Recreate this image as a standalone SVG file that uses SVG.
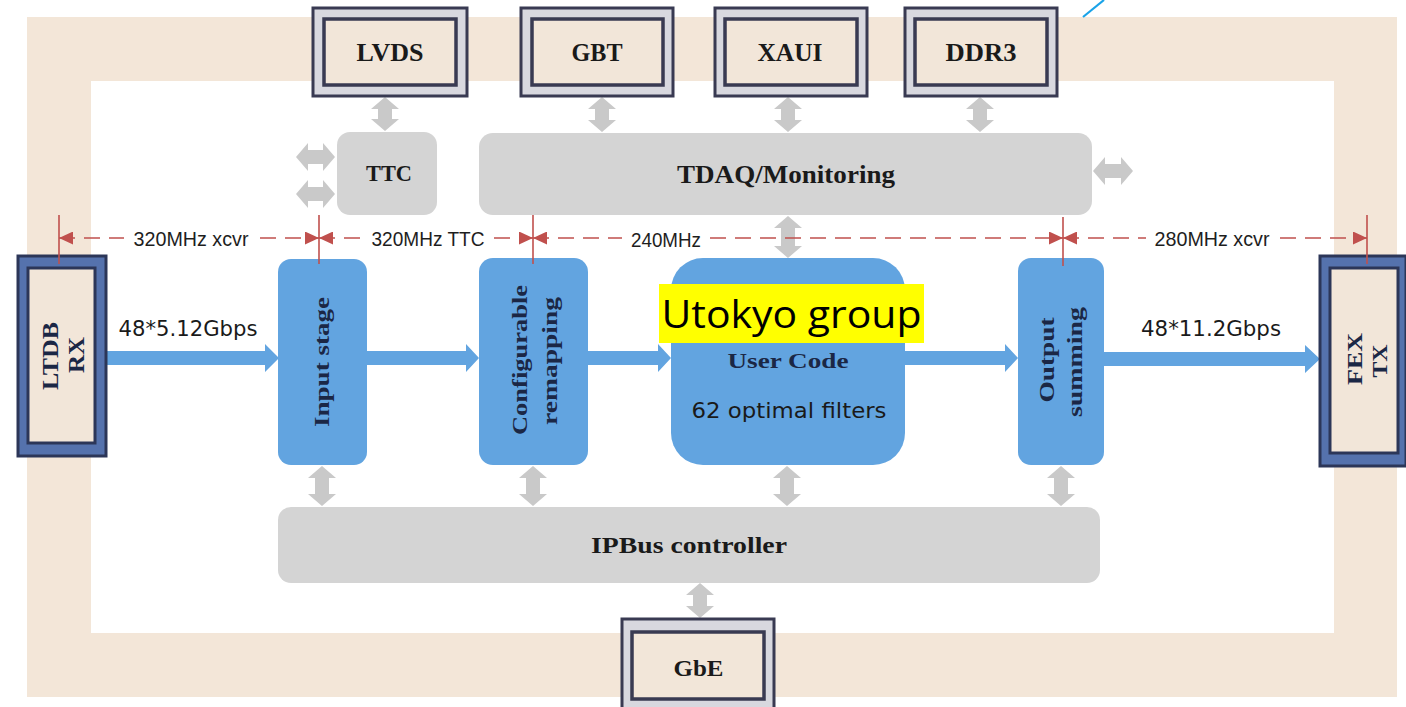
<svg xmlns="http://www.w3.org/2000/svg" width="1406" height="707" viewBox="0 0 1406 707">
<style>
.ser{font-family:"Liberation Serif","Times New Roman",serif;font-weight:bold;fill:#1a1a1a;text-anchor:middle}
.bl{fill:#1b2745}
.san{font-family:"DejaVu Sans","Liberation Sans",sans-serif;fill:#1a1a1a;text-anchor:middle}
.dim{font-family:"Liberation Sans",Arial,sans-serif;font-size:20px;fill:#1e1e1e;text-anchor:middle}
.ext-o{fill:#d8d8df;stroke:#393a52;stroke-width:3}
.ext-i{fill:#f2e6d9;stroke:#393a52;stroke-width:3.5}
.gray{fill:#d4d4d4}
.garr{fill:#c9c9c9}
.blue{fill:#62a4e0}
.io-o{fill:#5572ad;stroke:#2c3658;stroke-width:3}
.io-i{fill:#f2e6d9;stroke:#2c3658;stroke-width:3}
.dl{stroke:#c0504d;stroke-width:1.6;fill:none;stroke-dasharray:16 9}
.tick{stroke:#c0504d;stroke-width:1.6}
</style>
<defs>
<marker id="ra" markerUnits="userSpaceOnUse" markerWidth="15" markerHeight="13" refX="14" refY="6.5" orient="auto-start-reverse">
<path d="M0,0 L14,6.5 L0,13 Z" fill="#c0504d"/>
</marker>
</defs>
<rect width="1406" height="707" fill="#ffffff"/>
<g id="frame">
<rect x="27" y="17" width="1370" height="680" fill="#f3e6d8"/>
<rect x="91" y="81" width="1243" height="552" fill="#ffffff"/>
<line x1="1083" y1="17" x2="1104" y2="0" stroke="#1aa3e8" stroke-width="2.2"/>
</g>
<g id="connectors">
<path class="garr" d="M385 97 L399 109 H392 V119 H399 L385 131 L371 119 H378 V109 H371 Z"/>
<path class="garr" d="M602 97 L616 109 H609 V120 H616 L602 132 L588 120 H595 V109 H588 Z"/>
<path class="garr" d="M788 97 L802 109 H795 V120 H802 L788 132 L774 120 H781 V109 H774 Z"/>
<path class="garr" d="M980 97 L994 109 H987 V120 H994 L980 132 L966 120 H973 V109 H966 Z"/>
<path class="garr" d="M788 216 L802 228 H795 V246 H802 L788 258 L774 246 H781 V228 H774 Z"/>
<path class="garr" d="M1093 171 L1105 157 V164 H1121 V157 L1133 171 L1121 185 V178 H1105 V185 Z"/>
<path class="garr" d="M296 157 L308 143 V150 H323 V143 L335 157 L323 171 V164 H308 V171 Z"/>
<path class="garr" d="M296 194 L308 180 V187 H323 V180 L335 194 L323 208 V201 H308 V208 Z"/>
<path class="garr" d="M322 466 L336 478 H329 V494 H336 L322 506 L308 494 H315 V478 H308 Z"/>
<path class="garr" d="M533 466 L547 478 H540 V494 H547 L533 506 L519 494 H526 V478 H519 Z"/>
<path class="garr" d="M787 466 L801 478 H794 V494 H801 L787 506 L773 494 H780 V478 H773 Z"/>
<path class="garr" d="M1061 466 L1075 478 H1068 V494 H1075 L1061 506 L1047 494 H1054 V478 H1047 Z"/>
<path class="garr" d="M700 583 L714 595 H707 V606 H714 L700 618 L686 606 H693 V595 H686 Z"/>
<path class="blue" d="M106 351 H265 V344 L279 358 L265 372 V365 H106 Z"/>
<path class="blue" d="M367 351 H466 V344 L479 358 L466 372 V365 H367 Z"/>
<path class="blue" d="M588 351 H658 V344 L671 358 L658 372 V365 H588 Z"/>
<path class="blue" d="M905 351 H1005 V344 L1018 358 L1005 372 V365 H905 Z"/>
<path class="blue" d="M1104 352 H1305 V345 L1320 359 L1305 373 V366 H1104 Z"/>
<text class="san" x="188" y="336" font-size="21" textLength="139" lengthAdjust="spacingAndGlyphs">48*5.12Gbps</text>
<text class="san" x="1211" y="336" font-size="21" textLength="140" lengthAdjust="spacingAndGlyphs">48*11.2Gbps</text>
</g>
<g id="lvds"><rect class="ext-o" x="313" y="8" width="154" height="88"/><rect class="ext-i" x="324" y="19" width="132" height="66"/><text class="ser" x="390" y="61" font-size="25" textLength="67" lengthAdjust="spacingAndGlyphs">LVDS</text></g>
<g id="gbt"><rect class="ext-o" x="521" y="8" width="152" height="88"/><rect class="ext-i" x="532" y="19" width="131" height="66"/><text class="ser" x="597" y="61" font-size="25" textLength="51" lengthAdjust="spacingAndGlyphs">GBT</text></g>
<g id="xaui"><rect class="ext-o" x="715" y="8" width="152" height="88"/><rect class="ext-i" x="725" y="19" width="132" height="66"/><text class="ser" x="790" y="61" font-size="25" textLength="65" lengthAdjust="spacingAndGlyphs">XAUI</text></g>
<g id="ddr3"><rect class="ext-o" x="905" y="8" width="152" height="88"/><rect class="ext-i" x="915" y="19" width="132" height="66"/><text class="ser" x="981" y="61" font-size="25" textLength="71" lengthAdjust="spacingAndGlyphs">DDR3</text></g>
<g id="gbe"><rect class="ext-o" x="622" y="619" width="152" height="92"/><rect class="ext-i" x="632" y="632" width="132" height="67"/><text class="ser" x="698.5" y="676" font-size="23" textLength="50" lengthAdjust="spacingAndGlyphs">GbE</text></g>
<g id="ttc"><rect class="gray" x="337" y="132" width="100" height="83" rx="13"/><text class="ser" x="389" y="181" font-size="24" textLength="46" lengthAdjust="spacingAndGlyphs">TTC</text></g>
<g id="tdaq"><rect class="gray" x="479" y="133" width="613" height="82" rx="14"/><text class="ser" x="786" y="183" font-size="25" textLength="218" lengthAdjust="spacingAndGlyphs">TDAQ/Monitoring</text></g>
<g id="ipbus"><rect class="gray" x="278" y="507" width="822" height="76" rx="13"/><text class="ser" x="689" y="553" font-size="23" textLength="196" lengthAdjust="spacingAndGlyphs">IPBus controller</text></g>
<g id="ltdb"><rect class="io-o" x="18" y="256" width="88" height="200"/><rect class="io-i" x="28" y="268" width="67" height="175"/>
<text class="ser bl" transform="translate(58,356) rotate(-90)" font-size="23" textLength="68" lengthAdjust="spacingAndGlyphs">LTDB</text>
<text class="ser bl" transform="translate(84,355) rotate(-90)" font-size="23" textLength="36" lengthAdjust="spacingAndGlyphs">RX</text></g>
<g id="fex"><rect class="io-o" x="1320" y="256" width="86" height="210"/><rect class="io-i" x="1330" y="268" width="68" height="185"/>
<text class="ser bl" transform="translate(1362,359) rotate(-90)" font-size="22" textLength="52" lengthAdjust="spacingAndGlyphs">FEX</text>
<text class="ser bl" transform="translate(1387,361) rotate(-90)" font-size="22" textLength="33" lengthAdjust="spacingAndGlyphs">TX</text></g>
<g id="input"><rect class="blue" x="278" y="259" width="89" height="206" rx="13"/>
<text class="ser bl" transform="translate(329,362) rotate(-90)" font-size="22" textLength="130" lengthAdjust="spacingAndGlyphs">Input stage</text></g>
<g id="remap"><rect class="blue" x="479" y="258" width="109" height="207" rx="14"/>
<text class="ser bl" transform="translate(527,360) rotate(-90)" font-size="22" textLength="150" lengthAdjust="spacingAndGlyphs">Configurable</text>
<text class="ser bl" transform="translate(557,361) rotate(-90)" font-size="22" textLength="128" lengthAdjust="spacingAndGlyphs">remapping</text></g>
<g id="user"><rect class="blue" x="671" y="258" width="234" height="207" rx="32"/>
<text class="ser bl" x="788" y="368" font-size="22" textLength="121" lengthAdjust="spacingAndGlyphs">User Code</text>
<text class="san bl" x="789" y="418" font-size="22" textLength="195" lengthAdjust="spacingAndGlyphs">62 optimal filters</text></g>
<g id="output"><rect class="blue" x="1018" y="258" width="86" height="207" rx="13"/>
<text class="ser bl" transform="translate(1054,360) rotate(-90)" font-size="22" textLength="85" lengthAdjust="spacingAndGlyphs">Output</text>
<text class="ser bl" transform="translate(1082,362) rotate(-90)" font-size="22" textLength="110" lengthAdjust="spacingAndGlyphs">summing</text></g>
<g id="utokyo"><rect x="659" y="284" width="265" height="59" fill="#ffff00"/>
<text x="791.5" y="328" font-family="'Open Sans','Liberation Sans',sans-serif" font-size="38" fill="#000" text-anchor="middle" textLength="260" lengthAdjust="spacingAndGlyphs">Utokyo group</text></g>
<g id="clock-domains">
<line class="tick" x1="59" y1="215" x2="59" y2="264"/>
<line class="tick" x1="319" y1="215" x2="319" y2="264"/>
<line class="tick" x1="533" y1="215" x2="533" y2="264"/>
<line class="tick" x1="1063" y1="217" x2="1063" y2="266"/>
<line class="tick" x1="1367" y1="215" x2="1367" y2="264"/>
<line class="dl" x1="59" y1="238" x2="124" y2="238" marker-start="url(#ra)"/>
<line class="dl" x1="260" y1="238" x2="319" y2="238" marker-end="url(#ra)"/>
<line class="dl" x1="319" y1="238" x2="364" y2="238" marker-start="url(#ra)"/>
<line class="dl" x1="494" y1="238" x2="533" y2="238" marker-end="url(#ra)"/>
<line class="dl" x1="533" y1="238" x2="622" y2="238" marker-start="url(#ra)"/>
<line class="dl" x1="710" y1="238" x2="1063" y2="238" marker-end="url(#ra)"/>
<line class="dl" x1="1063" y1="238" x2="1146" y2="238" marker-start="url(#ra)"/>
<line class="dl" x1="1280" y1="238" x2="1367" y2="238" marker-end="url(#ra)"/>
<text class="dim" x="191" y="246" textLength="115" lengthAdjust="spacingAndGlyphs">320MHz xcvr</text>
<text class="dim" x="428" y="246" textLength="113" lengthAdjust="spacingAndGlyphs">320MHz TTC</text>
<text class="dim" x="666" y="247" textLength="70" lengthAdjust="spacingAndGlyphs">240MHz</text>
<text class="dim" x="1212" y="246" textLength="115" lengthAdjust="spacingAndGlyphs">280MHz xcvr</text>
</g>
</svg>
